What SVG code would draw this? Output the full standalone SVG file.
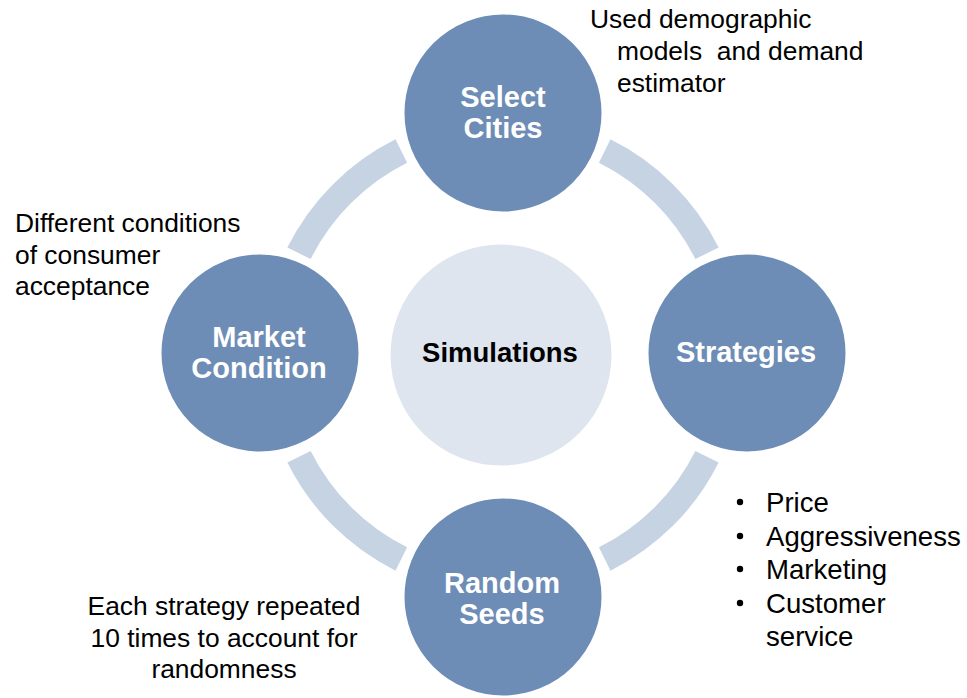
<svg xmlns="http://www.w3.org/2000/svg" width="967" height="698" viewBox="0 0 967 698">
<style>
text { font-family: "Liberation Sans", Arial, sans-serif; }
.ring { fill: none; stroke: #C5D3E3; stroke-width: 26; stroke-linecap: butt; }
.node { fill: #6D8DB6; stroke: #FFFFFF; stroke-width: 3; }
.hub { fill: #DFE5EE; stroke: #FFFFFF; stroke-width: 3; }
.nlabel { fill: #FFFFFF; font-weight: bold; font-size: 29px; text-anchor: middle; }
.hlabel { fill: #000000; font-weight: bold; font-size: 27.5px; text-anchor: middle; }
.note { fill: #000000; font-size: 26.4px; }
.bullet { fill: #000000; font-size: 27.6px; }
</style>
<rect x="0" y="0" width="967" height="698" fill="#FFFFFF"/>
<g id="connectors">
<path class="ring" d="M 604.7 151.0 A 228 228 0 0 1 707.0 253.3"/>
<path class="ring" d="M 707.0 456.7 A 228 228 0 0 1 604.7 559.0"/>
<path class="ring" d="M 401.3 559.0 A 228 228 0 0 1 299.0 456.7"/>
<path class="ring" d="M 299.0 253.3 A 228 228 0 0 1 401.3 151.0"/>
</g>
<g id="simulations">
<circle class="hub" cx="501" cy="355" r="112"/>
<text class="hlabel" x="500" y="362">Simulations</text>
</g>
<g id="select-cities">
<circle class="node" cx="503" cy="113" r="100"/>
<text class="nlabel" x="503" y="107">Select</text>
<text class="nlabel" x="503" y="138">Cities</text>
</g>
<g id="strategies">
<circle class="node" cx="747" cy="353" r="100"/>
<text class="nlabel" x="746" y="362">Strategies</text>
</g>
<g id="random-seeds">
<circle class="node" cx="503" cy="597" r="100"/>
<text class="nlabel" x="502" y="593">Random</text>
<text class="nlabel" x="502" y="624">Seeds</text>
</g>
<g id="market-condition">
<circle class="node" cx="260" cy="353" r="100"/>
<text class="nlabel" x="259" y="347">Market</text>
<text class="nlabel" x="259" y="378">Condition</text>
</g>
<g id="note-select-cities">
<text class="note" x="590" y="28">Used demographic</text>
<text class="note" x="617" y="60" xml:space="preserve">models  and demand</text>
<text class="note" x="617" y="92">estimator</text>
</g>
<g id="note-market-condition">
<text class="note" x="15" y="232">Different conditions</text>
<text class="note" x="15" y="263.5">of consumer</text>
<text class="note" x="15" y="295">acceptance</text>
</g>
<g id="note-random-seeds">
<text class="note" x="224" y="615" text-anchor="middle">Each strategy repeated</text>
<text class="note" x="224" y="647" text-anchor="middle">10 times to account for</text>
<text class="note" x="224" y="678" text-anchor="middle">randomness</text>
</g>
<g id="note-strategies">
<circle cx="740" cy="502" r="3.2" fill="#000000"/>
<circle cx="740" cy="536" r="3.2" fill="#000000"/>
<circle cx="740" cy="569" r="3.2" fill="#000000"/>
<circle cx="740" cy="603" r="3.2" fill="#000000"/>
<text class="bullet" x="766" y="512">Price</text>
<text class="bullet" x="766" y="545.5">Aggressiveness</text>
<text class="bullet" x="766" y="579">Marketing</text>
<text class="bullet" x="766" y="612.5">Customer</text>
<text class="bullet" x="766" y="646">service</text>
</g>
</svg>
